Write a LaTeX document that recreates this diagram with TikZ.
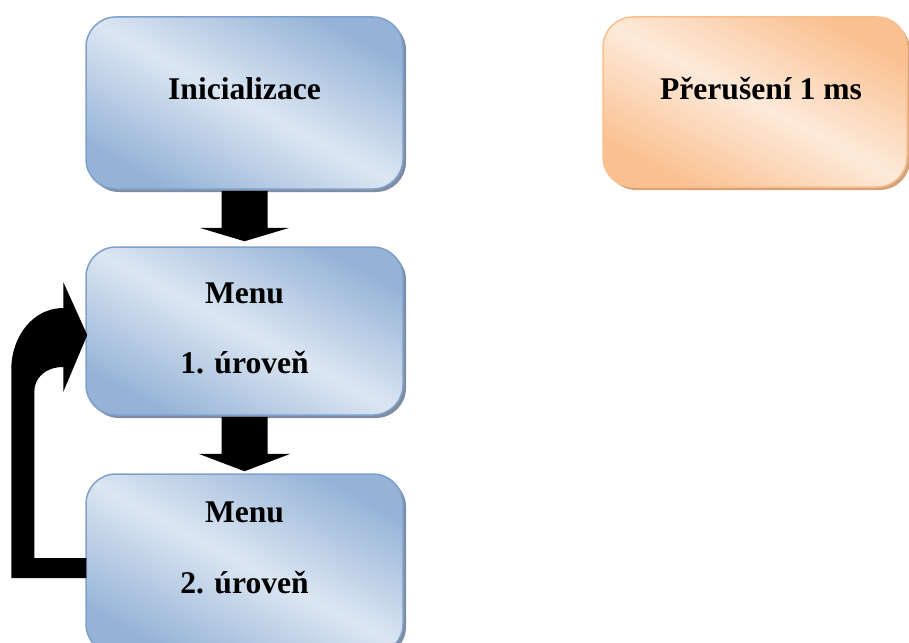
\documentclass[tikz,border=0pt]{standalone}
\usepackage{fontspec}
\setmainfont{Liberation Serif}
\usetikzlibrary{calc,shadows}
\definecolor{bdark}{RGB}{149,179,215}
\definecolor{blight}{RGB}{220,230,242}
\definecolor{bline}{RGB}{126,160,204}
\definecolor{bshadow}{RGB}{128,140,160}
\definecolor{odark}{RGB}{250,192,143}
\definecolor{olight}{RGB}{253,234,218}
\definecolor{oline}{RGB}{248,190,140}
\definecolor{oshadow}{RGB}{214,162,120}
\tikzset{
  bluebox/.style={draw=bline, line width=1.5pt, rounded corners=30pt,
    top color=bdark, bottom color=bdark, middle color=blight, shading angle=-28,
    minimum width=317pt, inner sep=0pt,
    general shadow={fill=bshadow, shadow xshift=3pt, shadow yshift=-3pt}},
  orangebox/.style={draw=oline, line width=1.5pt, rounded corners=30pt,
    top color=odark, bottom color=odark, middle color=olight, shading angle=-28,
    minimum width=304pt, inner sep=0pt,
    general shadow={fill=oshadow, shadow xshift=3pt, shadow yshift=-3pt}},
  lbl/.style={font=\fontsize{31.6}{38}\selectfont\bfseries, inner sep=0pt, anchor=base},
  blockarrow/.style={fill=black}
}
\begin{document}
\begin{tikzpicture}[x=1pt,y=-1pt]
\useasboundingbox (0,0) rectangle (909,642);
\clip (0,0) rectangle (909,642);
\path (244.5,103) coordinate (c0) (244.5,331) coordinate (c1) (244.5,564) coordinate (c2);
% boxes
\node[bluebox, minimum height=172pt] (init) at (c0) {};
\node[bluebox, minimum height=168pt] (m1) at (c1) {};
\node[bluebox, minimum height=180pt] (m2) at (c2) {};
\node[orangebox, minimum height=170pt] (irq) at (755,102) {};
% block arrows
\fill[blockarrow] ($(init.south)+(-23,1)$) -- ($(init.south)+(-23,38)$) -- ($(init.south)+(-45,38)$)
  -- ($(m1.north)+(0,-5)$) -- ($(init.south)+(45,38)$) -- ($(init.south)+(23,38)$)
  -- ($(init.south)+(23,1)$) -- cycle;
\fill[blockarrow] ($(m1.south)+(-23,1)$) -- ($(m1.south)+(-23,38)$) -- ($(m1.south)+(-46,38)$)
  -- ($(m2.north)+(0,-2)$) -- ($(m1.south)+(46,38)$) -- ($(m1.south)+(23,38)$)
  -- ($(m1.south)+(23,1)$) -- cycle;
% bent return arrow from m2 to m1
\fill[blockarrow] ($(m1.west)+(1,227)$) -- ($(m1.west)+(-51,227)$) -- ($(m1.west)+(-51,61)$)
  .. controls ($(m1.west)+(-51,47)$) and ($(m1.west)+(-40,36)$) .. ($(m1.west)+(-22,36)$)
  -- ($(m1.west)+(-22,61)$) -- ($(m1.west)+(2,4)$) -- ($(m1.west)+(-22,-49)$)
  -- ($(m1.west)+(-22,-23)$)
  .. controls ($(m1.west)+(-52,-23)$) and ($(m1.west)+(-74,5)$) .. ($(m1.west)+(-74,39)$)
  -- ($(m1.west)+(-74,247)$) -- ($(m2.west |- 0,578)+(1,0)$) -- cycle;
% labels
\node[lbl] (t0) at (244.5,99) {Inicializace};
\node[lbl] (t1a) at (244.5,303) {Menu};
\node[lbl] (t1b) at (244.5,373) {1. úroveň};
\node[lbl] (t2a) at (244.5,522) {Menu};
\node[lbl] (t2b) at (244.5,593) {2. úroveň};
\node[lbl] (t3) at (761,99) {Přerušení 1 ms};
\end{tikzpicture}
\end{document}
